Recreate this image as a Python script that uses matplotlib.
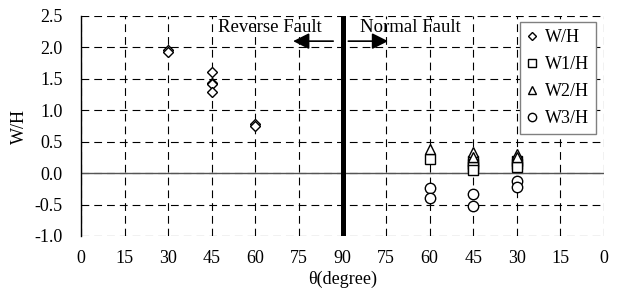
import matplotlib
matplotlib.use("Agg")
import matplotlib.pyplot as plt
from matplotlib.lines import Line2D
import numpy as np

plt.rcParams['font.family'] = ['Liberation Serif', 'DejaVu Serif']
plt.rcParams['font.size'] = 13

# x position on a 0..180 axis: reverse fault theta on the left, normal fault (180 - theta) on the right
wh_x = [30, 30, 45, 45, 45, 45, 60, 60]
wh_y = [1.96, 1.93, 1.61, 1.44, 1.42, 1.29, 0.78, 0.75]

w1_x = [120, 135, 135, 135, 135, 150, 150, 150]
w1_y = [0.23, 0.20, 0.15, 0.10, 0.05, 0.20, 0.15, 0.10]

w2_x = [120, 135, 135, 150, 150]
w2_y = [0.38, 0.34, 0.25, 0.31, 0.26]

w3_x = [120, 120, 135, 135, 150, 150]
w3_y = [-0.23, -0.40, -0.33, -0.52, -0.12, -0.22]

labels = ['W/H', 'W1/H', 'W2/H', 'W3/H']
markers = ['D', 's', '^', 'o']

xticks = np.arange(0, 181, 15)
xticklabels = ['0', '15', '30', '45', '60', '75', '90', '75', '60', '45', '30', '15', '0']
yticks = np.arange(-1.0, 2.51, 0.5)

fig = plt.figure(figsize=(6.18, 2.89), dpi=100)
ax = fig.add_axes([81 / 618, 1 - 236 / 289, 523 / 618, 220 / 289])

mk = dict(linestyle='none', markerfacecolor='white', markeredgecolor='black',
          markeredgewidth=1.0)
ax.plot(wh_x, wh_y, marker='D', markersize=5.2, **mk)
ax.plot(w1_x, w1_y, marker='s', markersize=6.8, **mk)
ax.plot(w2_x, w2_y, marker='^', markersize=7.5, **mk)
ax.plot(w3_x, w3_y, marker='o', markersize=7.5, **mk)

ax.axhline(0, color='#555555', linewidth=1.0, zorder=1)
ax.axvline(90, color='black', linewidth=3.6, zorder=3)

ax.set_xlim(0, 180)
ax.set_ylim(-1.0, 2.5)
ax.set_xticks(xticks)
ax.set_xticklabels(xticklabels)
ax.set_yticks(yticks)
ax.set_yticklabels(['%.1f' % v for v in yticks])
ax.grid(True, color='black', linestyle=(0, (7, 4.5)), linewidth=0.8)
ax.set_axisbelow(True)
for s in ['top', 'right', 'bottom']:
    ax.spines[s].set_visible(False)
ax.spines['left'].set_linewidth(1.0)
ax.tick_params(axis='y', length=0, pad=13)
ax.tick_params(axis='x', length=0, pad=10)

ax.set_xlabel('θ(degree)', labelpad=3)
ax.set_ylabel('W/H', labelpad=5)

ax.text(47, 2.32, 'Reverse Fault', ha='left', va='center', fontsize=13.5)
ax.text(96, 2.32, 'Normal Fault', ha='left', va='center', fontsize=13.5)
arrow = dict(arrowstyle='-|>,head_length=0.7,head_width=0.35', color='black',
             lw=1.2, mutation_scale=14, shrinkA=0, shrinkB=0)
ax.annotate('', xy=(73, 2.10), xytext=(86.8, 2.10), arrowprops=arrow)
ax.annotate('', xy=(105.7, 2.10), xytext=(92, 2.10), arrowprops=arrow)

leg_sizes = [4.3, 6.0, 6.3, 6.0]
handles = [Line2D([], [], marker=m, markersize=s, **mk) for m, s in zip(markers, leg_sizes)]
leg = ax.legend(handles, labels, loc='upper right', bbox_to_anchor=(0.985, 0.973),
                borderaxespad=0, frameon=True, fancybox=False, edgecolor='gray',
                framealpha=1, handlelength=0.6, handletextpad=0.4, borderpad=0.4,
                labelspacing=0.55, fontsize=13)
leg.get_frame().set_linewidth(1.0)

fig.savefig('out.png', dpi=100)
